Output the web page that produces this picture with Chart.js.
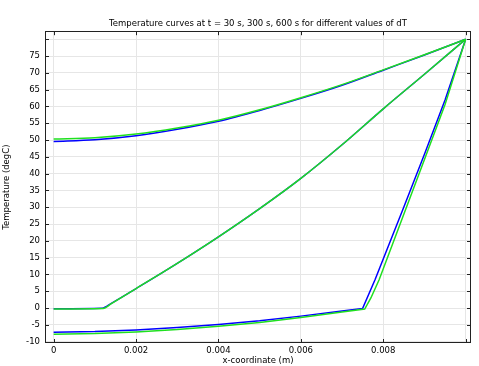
<!DOCTYPE html>
<html>
<head>
<meta charset="utf-8">
<script src="https://cdn.jsdelivr.net/npm/chart.js@4/dist/chart.umd.min.js"></script>
<style>
  html, body { margin: 0; padding: 0; background: #fff; }
  #wrap { width: 479px; height: 366px; }
</style>
</head>
<body>
<div id="wrap"><canvas id="grafico" width="479" height="366"></canvas></div>
<script>
// curva superior (t = 600 s)
const xTopo = [0, 0.001, 0.002, 0.003, 0.004, 0.005, 0.006, 0.007, 0.008, 0.009, 0.01];
const tTopoAzul = [49.6, 50.1, 51.3, 53.2, 55.6, 58.8, 62.4, 66.3, 70.8, 75.3, 80];
const tTopoVerde = [50.3, 50.7, 51.8, 53.6, 55.9, 59.0, 62.6, 66.5, 70.9, 75.4, 80];

// curva do meio (t = 300 s)
const xMeioAzul = [0, 0.00118, 0.0014, 0.002, 0.003, 0.004, 0.005, 0.006, 0.007, 0.008, 0.009, 0.01];
const tMeioAzul = [-0.2, -0.05, 1.4, 5.8, 13.3, 21.2, 29.6, 38.6, 48.6, 59.3, 69.6, 80];
const xMeioVerde = [0, 0.0012, 0.0014, 0.002, 0.003, 0.004, 0.005, 0.006, 0.007, 0.008, 0.009, 0.01];
const tMeioVerde = [-0.3, -0.15, 1.3, 5.8, 13.3, 21.2, 29.6, 38.6, 48.6, 59.3, 69.6, 80];

// curva inferior (t = 30 s)
const xBaixoAzul = [0, 0.001, 0.002, 0.003, 0.004, 0.005, 0.006, 0.007, 0.0075, 0.0078, 0.0085, 0.009, 0.0095, 0.01];
const tBaixoAzul = [-7.2, -7.0, -6.5, -5.8, -4.9, -3.8, -2.4, -0.9, -0.1, 8.4, 30.1, 45.8, 61.9, 80];
const xBaixoVerde = [0, 0.001, 0.002, 0.003, 0.004, 0.005, 0.006, 0.007, 0.00755, 0.0077, 0.0079, 0.0086, 0.009, 0.0095, 0.01];
const tBaixoVerde = [-7.8, -7.6, -7.1, -6.4, -5.4, -4.3, -2.8, -1.2, -0.3, 3.0, 8.4, 31.2, 44.2, 60.6, 80];

const xTicks = [0, 0.002, 0.004, 0.006, 0.008, 0.01];
const xTickLabels = ['0', '0.002', '0.004', '0.006', '0.008', ''];
const yTicks = [-10, -5, 0, 5, 10, 15, 20, 25, 30, 35, 40, 45, 50, 55, 60, 65, 70, 75, 80];
const yTickLabels = ['-10', '-5', '0', '5', '10', '15', '20', '25', '30', '35', '40', '45', '50', '55', '60', '65', '70', '75', ''];

const AZUL = '#0000ff';
const VERDE = '#1fe01f';
const FONTE = { family: 'DejaVu Sans', size: 8.5 };

function pontos(xs, ts) {
  return xs.map((x, i) => ({ x: x, y: ts[i] }));
}

function serie(xs, ts, cor, ordem, suave) {
  return {
    data: pontos(xs, ts),
    borderColor: cor,
    backgroundColor: cor,
    borderWidth: 1.5,
    pointRadius: 0,
    showLine: true,
    tension: 0,
    cubicInterpolationMode: suave ? 'monotone' : 'default',
    fill: false,
    order: ordem
  };
}

// moldura e marcas para dentro, estilo COMSOL
const moldura = {
  id: 'moldura',
  afterDatasetsDraw(chart) {
    const { ctx, chartArea: a, scales: { x, y } } = chart;
    const L = 4;
    ctx.save();
    ctx.strokeStyle = '#222';
    ctx.lineWidth = 1;
    ctx.strokeRect(Math.round(a.left) + 0.5, Math.round(a.top) + 0.5,
      Math.round(a.right - a.left) - 1, Math.round(a.bottom - a.top) - 1);
    ctx.beginPath();
    xTicks.forEach(v => {
      const px = Math.round(x.getPixelForValue(v)) + 0.5;
      ctx.moveTo(px, a.bottom); ctx.lineTo(px, a.bottom - L);
      ctx.moveTo(px, a.top); ctx.lineTo(px, a.top + L);
    });
    yTicks.forEach(v => {
      const py = Math.round(y.getPixelForValue(v)) + 0.5;
      ctx.moveTo(a.left, py); ctx.lineTo(a.left + L, py);
      ctx.moveTo(a.right, py); ctx.lineTo(a.right - L, py);
    });
    ctx.stroke();
    ctx.restore();
  }
};

new Chart(document.getElementById('grafico').getContext('2d'), {
  type: 'scatter',
  data: {
    datasets: [
      serie(xTopo, tTopoAzul, AZUL, 1, true),
      serie(xMeioAzul, tMeioAzul, AZUL, 1, true),
      serie(xBaixoAzul, tBaixoAzul, AZUL, 1, false),
      serie(xTopo, tTopoVerde, VERDE, 0, true),
      serie(xMeioVerde, tMeioVerde, VERDE, 0, true),
      serie(xBaixoVerde, tBaixoVerde, VERDE, 0, false)
    ]
  },
  options: {
    responsive: false,
    animation: false,
    layout: { padding: { left: 0, right: 8, top: 0, bottom: 0 } },
    plugins: {
      legend: { display: false },
      tooltip: { enabled: false },
      title: {
        display: true,
        fullSize: false,
        text: 'Temperature curves at t = 30 s, 300 s, 600 s for different values of dT',
        color: '#000',
        font: { family: 'DejaVu Sans', size: 8.5, weight: 'normal' },
        padding: { top: 19, bottom: 2 }
      }
    },
    scales: {
      x: {
        type: 'linear',
        min: -0.00021,
        max: 0.01013,
        afterBuildTicks: s => { s.ticks = xTicks.map(v => ({ value: v })); },
        afterFit: s => { s.height = 23; },
        ticks: {
          color: '#000',
          font: FONTE,
          padding: 3,
          maxRotation: 0,
          autoSkip: false,
          callback: v => xTickLabels[xTicks.indexOf(v)]
        },
        grid: { color: '#e6e6e6', drawTicks: false },
        border: { display: false },
        title: { display: true, text: 'x-coordinate (m)', color: '#000', font: FONTE, padding: 0 }
      },
      y: {
        type: 'linear',
        min: -10.4,
        max: 82.4,
        afterBuildTicks: s => { s.ticks = yTicks.map(v => ({ value: v })); },
        afterFit: s => { s.width = 45; },
        ticks: {
          color: '#000',
          font: FONTE,
          padding: 5,
          autoSkip: false,
          callback: v => yTickLabels[yTicks.indexOf(v)]
        },
        grid: { color: '#e6e6e6', drawTicks: false },
        border: { display: false },
        title: { display: true, text: 'Temperature (degC)', color: '#000', font: FONTE, padding: { top: 2, bottom: 0 } }
      }
    }
  },
  plugins: [moldura]
});
</script>
</body>
</html>
